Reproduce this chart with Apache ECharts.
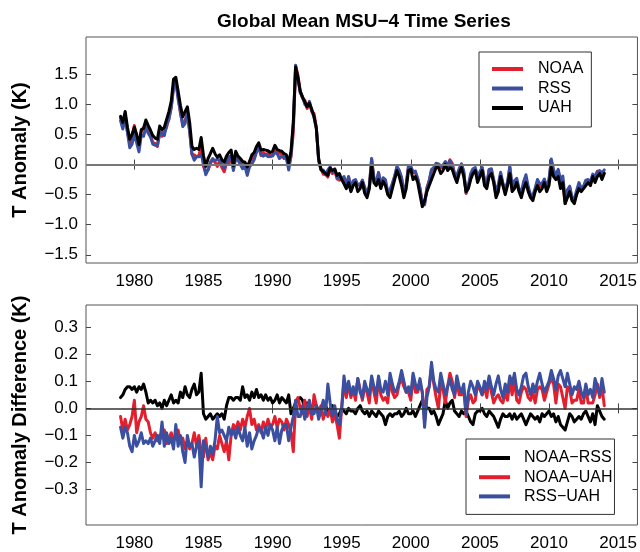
<!DOCTYPE html>
<html>
<head>
<meta charset="utf-8">
<script src="https://cdn.jsdelivr.net/npm/echarts@6/dist/echarts.min.js"></script>
<style>
  html, body { margin: 0; padding: 0; background: #fff; }
  #chart { width: 640px; height: 552px; }
</style>
</head>
<body>
<div id="chart"></div>
<script>
// One value every two months, January 1979 to January 2014
const START_YEAR = 1979;
const STEP = 1 / 6;

// UAH global mean MSU-4 anomaly (K)
const uah = [
  0.80, 0.70, 0.88, 0.62, 0.42, 0.50,
  0.62, 0.50, 0.33, 0.58, 0.60, 0.74,
  0.65, 0.57, 0.48, 0.44, 0.42, 0.64,
  0.58, 0.62, 0.75, 0.88, 1.05, 1.42,
  1.45, 1.22, 0.98, 0.79, 0.88, 0.96,
  0.70, 0.30, 0.25, 0.27, 0.25, 0.45,
  0.15, -0.03, 0.10, 0.18, 0.27, 0.18,
  0.12, 0.16, 0.08, 0.04, 0.14, 0.20,
  0.24, -0.02, 0.22, 0.14, 0.10, 0.05,
  0.04, -0.04, 0.05, 0.16, 0.20, 0.30,
  0.36, 0.24, 0.25, 0.24, 0.23, 0.20,
  0.22, 0.32, 0.25, 0.23, 0.22, 0.18,
  0.16, 0.03, 0.22, 0.70, 1.62, 1.45,
  1.22, 1.12, 1.04, 0.96, 1.02, 0.92,
  0.80, 0.60, 0.10, -0.08, -0.12, -0.15,
  -0.18, -0.06, -0.10, -0.08, -0.18, -0.15,
  -0.25, -0.32, -0.40, -0.30, -0.45, -0.35,
  -0.30, -0.45, -0.40, -0.30, -0.48, -0.55,
  -0.40, -0.02, -0.30, -0.35, -0.25, -0.40,
  -0.28, -0.35, -0.50, -0.55, -0.40, -0.25,
  -0.10, -0.20, -0.35, -0.55, -0.40, -0.10,
  -0.08, -0.25, -0.20, -0.30, -0.50, -0.70,
  -0.60, -0.45, -0.35, -0.25, -0.15, -0.05,
  -0.05, -0.15, -0.10, 0.00, -0.10, -0.05,
  -0.08, -0.20, -0.30, -0.15, -0.05, -0.20,
  -0.45, -0.40, -0.25, -0.15, -0.10, -0.30,
  -0.20, -0.10, -0.35, -0.40, -0.20, -0.15,
  -0.30, -0.55, -0.45, -0.20, -0.35, -0.50,
  -0.35, -0.15, -0.45, -0.40, -0.30, -0.45,
  -0.55, -0.40, -0.30, -0.45, -0.55, -0.60,
  -0.45, -0.35, -0.45, -0.40, -0.30, -0.45,
  -0.35, -0.05, -0.20, -0.25, -0.20, -0.40,
  -0.30, -0.65, -0.55, -0.45, -0.60, -0.65,
  -0.50, -0.40, -0.45, -0.40, -0.35, -0.30,
  -0.35, -0.20, -0.30, -0.20, -0.15, -0.25,
  -0.15
];

// NOAA minus RSS (K)
const noaaMinusRss = [
  0.04, 0.05, 0.07, 0.08, 0.08, 0.07,
  0.08, 0.06, 0.08, 0.07, 0.09, 0.06,
  0.02, 0.03, 0.02, 0.03, 0.01, 0.02,
  0.00, 0.03, 0.01, 0.03, 0.05, 0.02,
  0.03, 0.02, 0.06, 0.04, 0.08, 0.05,
  0.04, 0.07, 0.09, 0.05, 0.06, 0.13,
  -0.02, -0.04, -0.03, -0.02, -0.04, -0.03,
  -0.02, -0.03, -0.02, -0.04, 0.01, 0.04,
  0.04, 0.03, 0.04, 0.04, 0.03, 0.08,
  0.04, 0.05, 0.03, 0.06, 0.04, 0.07,
  0.04, 0.05, 0.03, 0.05, 0.03, 0.04,
  0.02, 0.03, 0.05, 0.02, 0.04, 0.03,
  0.02, 0.05, -0.02, 0.00, 0.02, 0.03,
  0.04, 0.03, 0.00, 0.02, 0.01, 0.00,
  0.02, 0.01, -0.01, 0.00, 0.02, 0.01,
  -0.01, 0.00, 0.01, -0.01, -0.03, -0.02,
  0.00, -0.01, -0.02, 0.00, -0.01, -0.01,
  -0.02, 0.00, 0.01, -0.01, -0.02, -0.01,
  -0.03, -0.01, -0.02, -0.03, -0.01, -0.02,
  -0.03, -0.06, -0.03, -0.02, -0.03, -0.02,
  -0.02, -0.01, -0.03, -0.02, 0.00, -0.02,
  -0.02, -0.01, -0.03, -0.01, 0.01, 0.03,
  0.02, 0.00, 0.00, -0.02, -0.01, -0.03,
  -0.06, -0.04, -0.02, 0.03, 0.00, 0.02,
  0.03, -0.01, -0.02, -0.03, -0.01, -0.02,
  -0.01, -0.03, -0.05, -0.06, -0.02, -0.01,
  -0.01, 0.00, -0.02, -0.03, -0.01, -0.02,
  -0.03, -0.05, -0.07, -0.04, -0.02, -0.03,
  -0.03, -0.02, -0.04, -0.02, -0.04, -0.03,
  -0.02, -0.04, -0.06, -0.04, -0.02, -0.03,
  -0.04, -0.03, -0.05, -0.02, -0.03, -0.02,
  -0.01, -0.03, -0.02, -0.05, -0.03, -0.06,
  -0.07, -0.08, -0.05, -0.02, -0.03, -0.05,
  -0.04, -0.03, -0.04, -0.02, -0.01, -0.03,
  -0.05, -0.02, -0.06, 0.01, -0.01, -0.03,
  -0.04
];

// NOAA minus UAH (K)
const noaaMinusUah = [
  -0.03, -0.08, -0.04, -0.08, -0.06, -0.03,
  0.03, -0.09, -0.05, -0.03, 0.01, -0.04,
  -0.05, -0.09, -0.11, -0.09, -0.12, -0.10,
  -0.11, -0.08, -0.13, -0.11, -0.09, -0.12,
  -0.10, -0.08, -0.13, -0.11, -0.15, -0.12,
  -0.15, -0.13, -0.09, -0.14, -0.10, -0.16,
  -0.18, -0.11, -0.19, -0.16, -0.19, -0.14,
  -0.15, -0.10, -0.13, -0.16, -0.12, -0.19,
  -0.10, -0.06, -0.08, -0.05, -0.08, -0.04,
  -0.07, -0.03, 0.00, -0.06, -0.04, -0.08,
  -0.06, -0.09, -0.05, -0.08, -0.04, -0.07,
  -0.06, -0.03, -0.07, -0.04, -0.05, -0.08,
  -0.04, -0.06, -0.09, -0.16, 0.02, 0.04,
  0.00, -0.02, 0.03, -0.03, 0.01, -0.04,
  0.05, 0.01, -0.02, 0.01, -0.04, -0.01,
  -0.03, 0.00, -0.05, -0.02, -0.06, -0.11,
  0.00, 0.10, 0.04, 0.09, 0.04, 0.07,
  0.03, 0.11, 0.07, 0.03, 0.08, 0.06,
  0.02, 0.11, 0.06, 0.02, 0.11, 0.05,
  0.03, 0.04, 0.02, 0.11, 0.06, 0.04,
  0.05, 0.09, 0.11, 0.08, 0.06, 0.06,
  0.03, 0.12, 0.06, 0.06, 0.09, 0.06,
  -0.05, 0.07, 0.08, 0.15, 0.09, 0.04,
  0.00, 0.09, 0.07, 0.02, 0.08, 0.13,
  0.10, 0.04, 0.10, 0.05, 0.05, 0.07,
  -0.03, 0.03, 0.05, 0.02, 0.03, 0.09,
  0.07, 0.05, 0.08, 0.04, 0.11, 0.06,
  0.02, 0.04, 0.05, 0.03, 0.02, 0.06,
  0.03, 0.10, 0.05, 0.11, 0.03, 0.02,
  0.06, 0.08, 0.07, 0.04, 0.03, 0.06,
  0.02, 0.07, 0.08, 0.07, 0.03, 0.06,
  0.09, 0.11, 0.09, 0.02, 0.09, 0.08,
  0.04, 0.00, 0.08, 0.07, 0.02, 0.03,
  0.03, 0.07, 0.02, 0.02, 0.08, 0.02,
  0.02, 0.02, 0.05, 0.09, 0.04, 0.08,
  0.01
];

// RSS minus UAH (K)
const rssMinusUah = [
  -0.07, -0.11, -0.07, -0.09, -0.14, -0.16,
  -0.10, -0.14, -0.12, -0.09, -0.13, -0.12,
  -0.13, -0.11, -0.14, -0.12, -0.10, -0.13,
  -0.05, -0.14, -0.09, -0.13, -0.11, -0.15,
  -0.06, -0.14, -0.10, -0.16, -0.20, -0.10,
  -0.14, -0.13, -0.18, -0.14, -0.12, -0.29,
  -0.12, -0.14, -0.18, -0.14, -0.17, -0.12,
  -0.03, -0.09, -0.08, -0.10, -0.12, -0.07,
  -0.10, -0.08, -0.11, -0.07, -0.10, -0.12,
  -0.07, -0.14, -0.09, -0.15, -0.12, -0.10,
  -0.07, -0.08, -0.11, -0.07, -0.10, -0.06,
  -0.08, -0.12, -0.07, -0.13, -0.08, -0.06,
  -0.06, -0.12, -0.07, -0.03, 0.03, -0.03,
  -0.03, 0.01, -0.04, 0.00, 0.03, -0.02,
  -0.02, 0.01, -0.04, -0.01, 0.03, -0.02,
  0.09, 0.02, -0.03, 0.01, -0.04, -0.06,
  0.00, 0.12, 0.06, 0.10, 0.05, 0.08,
  0.05, 0.11, 0.06, 0.04, 0.10, 0.07,
  0.05, 0.12, 0.08, 0.05, 0.12, 0.07,
  0.06, 0.10, 0.05, 0.13, 0.09, 0.06,
  0.07, 0.10, 0.14, 0.10, 0.06, 0.08,
  0.05, 0.13, 0.09, 0.07, 0.11, 0.06,
  -0.07, 0.04, 0.08, 0.17, 0.10, 0.07,
  0.06, 0.13, 0.09, 0.05, 0.08, 0.11,
  0.07, 0.05, 0.12, 0.08, 0.06, 0.09,
  -0.02, 0.06, 0.10, 0.08, 0.05, 0.10,
  0.08, 0.05, 0.10, 0.07, 0.12, 0.08,
  0.05, 0.09, 0.12, 0.07, 0.04, 0.09,
  0.06, 0.12, 0.09, 0.13, 0.07, 0.05,
  0.08, 0.12, 0.13, 0.08, 0.05, 0.09,
  0.06, 0.10, 0.13, 0.09, 0.06, 0.08,
  0.10, 0.14, 0.11, 0.07, 0.12, 0.14,
  0.11, 0.08, 0.13, 0.09, 0.05, 0.08,
  0.07, 0.10, 0.06, 0.04, 0.09, 0.05,
  0.07, 0.04, 0.11, 0.08, 0.05, 0.11,
  0.06
];

// Axis ticks
const yearTicks = [1980, 1985, 1990, 1995, 2000, 2005, 2010, 2015];
const anomalyTicks = [-1.5, -1.0, -0.5, 0.0, 0.5, 1.0, 1.5];
const diffTicks = [-0.3, -0.2, -0.1, 0.0, 0.1, 0.2, 0.3];

const RED = '#e31e2d';
const BLUE = '#3a4f9f';
const BLACK = '#000000';
const FONT = "'Liberation Sans', Arial, Helvetica, sans-serif";

const years = uah.map((_, i) => START_YEAR + i * STEP);
const pairs = arr => arr.map((v, i) => [years[i], v]);

// NOAA and RSS anomalies follow from UAH plus their offsets
const noaa = uah.map((v, i) => v + noaaMinusUah[i]);
const rss = uah.map((v, i) => v + rssMinusUah[i]);

const fmt = v => (v < 0 ? '\u2212' : '') + Math.abs(v).toFixed(1);

const X_MIN = 1976.5, X_MAX = 2016.4;

function xAxes(gridIndex) {
  const common = {
    type: 'value', gridIndex, min: X_MIN, max: X_MAX,
    splitLine: { show: false },
    axisLine: { show: false }
  };
  return [
    Object.assign({}, common, {
      position: 'bottom',
      axisTick: { inside: true, length: 5, lineStyle: { color: '#444', width: 1 }, customValues: yearTicks },
      axisLabel: { customValues: yearTicks, margin: 10, color: '#000', fontSize: 17, fontFamily: FONT, formatter: v => String(v) }
    }),
    Object.assign({}, common, {
      position: 'top',
      axisTick: { inside: true, length: 5, lineStyle: { color: '#444', width: 1 }, customValues: yearTicks },
      axisLabel: { show: false }
    })
  ];
}

function yAxes(gridIndex, min, max, ticks, name, nameGap) {
  const common = {
    type: 'value', gridIndex, min, max,
    splitLine: { show: false },
    axisLine: { show: false }
  };
  return [
    Object.assign({}, common, {
      position: 'left',
      name, nameLocation: 'middle', nameGap,
      nameTextStyle: { fontSize: 20, fontWeight: 'bold', color: '#000', fontFamily: FONT },
      axisTick: { inside: true, length: 5, lineStyle: { color: '#444', width: 1 }, customValues: ticks },
      axisLabel: { customValues: ticks, margin: 8, color: '#000', fontSize: 17, fontFamily: FONT, formatter: fmt }
    }),
    Object.assign({}, common, {
      position: 'right',
      axisTick: { inside: true, length: 5, lineStyle: { color: '#444', width: 1 }, customValues: ticks },
      axisLabel: { show: false }
    })
  ];
}

function line(name, data, color, xi, yi, extra) {
  return Object.assign({
    name, type: 'line', data: pairs(data),
    xAxisIndex: xi, yAxisIndex: yi,
    showSymbol: false, symbol: 'none',
    lineStyle: { color, width: 3, join: 'round', cap: 'round' },
    itemStyle: { color },
    emphasis: { disabled: true },
    silent: true
  }, extra || {});
}

function zeroLine(color, width) {
  return {
    silent: true, symbol: 'none', label: { show: false },
    lineStyle: { color, width, type: 'solid' },
    emphasis: { disabled: true },
    data: [{ yAxis: 0 }]
  };
}

const option = {
  animation: false,
  backgroundColor: '#fff',
  textStyle: { fontFamily: FONT },
  title: {
    text: 'Global Mean MSU\u22124 Time Series',
    left: 212, top: 7,
    textStyle: { fontSize: 19, fontWeight: 'bold', color: '#000', fontFamily: FONT }
  },
  grid: [
    { left: 86, right: 2, top: 37, height: 226, show: true, borderColor: '#555', borderWidth: 1, backgroundColor: 'transparent' },
    { left: 86, right: 2, top: 305, height: 226, show: true, borderColor: '#555', borderWidth: 1, backgroundColor: 'transparent' }
  ],
  xAxis: [...xAxes(0), ...xAxes(1)],
  yAxis: [
    ...yAxes(0, -1.637, 2.12, anomalyTicks, 'T Anomaly (K)', 56),
    ...yAxes(1, -0.431, 0.382, diffTicks, 'T Anomaly Difference (K)', 56)
  ],
  legend: [
    {
      data: ['NOAA', 'RSS', 'UAH'],
      orient: 'vertical', left: 479, top: 52,
      icon: 'rect', itemWidth: 31, itemHeight: 4, itemGap: 3.5,
      padding: [9, 8, 11, 13],
      borderColor: '#333', borderWidth: 1, backgroundColor: '#fff',
      selectedMode: false,
      textStyle: { fontSize: 16, lineHeight: 16, color: '#000', fontFamily: FONT, padding: [0, 0, 0, 10] }
    },
    {
      data: ['NOAA\u2212RSS', 'NOAA\u2212UAH', 'RSS\u2212UAH'],
      orient: 'vertical', left: 466, top: 439,
      icon: 'rect', itemWidth: 31, itemHeight: 4, itemGap: 3.2,
      padding: [11, 2, 10, 13],
      borderColor: '#333', borderWidth: 1, backgroundColor: '#fff',
      selectedMode: false,
      textStyle: { fontSize: 16, lineHeight: 16, color: '#000', fontFamily: FONT, padding: [0, 0, 0, 9] }
    }
  ],
  series: [
    line('NOAA', noaa, RED, 0, 0, { markLine: zeroLine('#777', 2), z: 2 }),
    line('RSS', rss, BLUE, 0, 0, { z: 3 }),
    line('UAH', uah, BLACK, 0, 0, { z: 4 }),
    line('NOAA\u2212RSS', noaaMinusRss, BLACK, 2, 2, { markLine: zeroLine('#333', 1.5), z: 2 }),
    line('NOAA\u2212UAH', noaaMinusUah, RED, 2, 2, { z: 3 }),
    line('RSS\u2212UAH', rssMinusUah, BLUE, 2, 2, { z: 4 })
  ]
};

const chart = echarts.init(document.getElementById('chart'), null, { renderer: 'canvas' });
chart.setOption(option);
</script>
</body>
</html>
